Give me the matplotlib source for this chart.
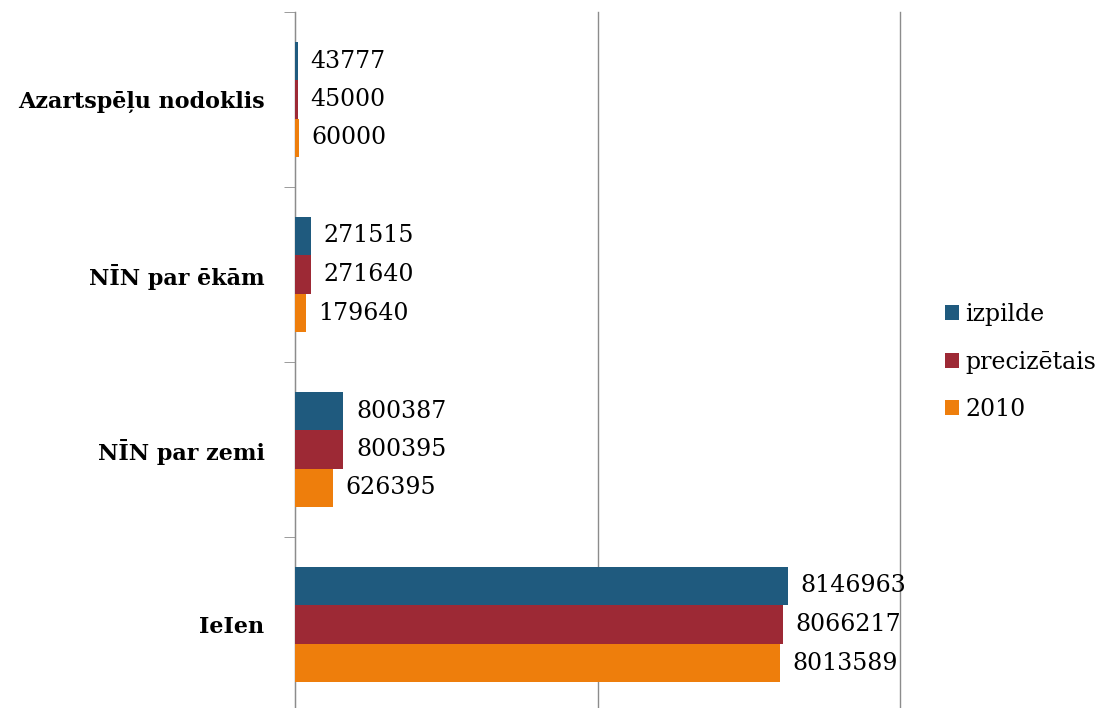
import numpy as np
from matplotlib import pyplot as plt
from matplotlib.ticker import FixedLocator

# dati (no apakšas uz augšu)
categories = ["IeIen", "NĪN par zemi", "NĪN par ēkām", "Azartspēļu nodoklis"]
izpilde = [8146963, 800387, 271515, 43777]
precizetais = [8066217, 800395, 271640, 45000]
gads_2010 = [8013589, 626395, 179640, 60000]
series_names = ["izpilde", "precizētais", "2010"]
colors = ["#1F5A7E", "#9D2935", "#EE7E0C"]

plt.rcParams['font.family'] = ['DejaVu Serif']

fig = plt.figure(figsize=(11.05, 7.08), dpi=100)
ax = fig.add_axes([295 / 1105, -4 / 708, 605 / 1105, 700 / 708])

y = np.arange(len(categories))
h = 0.22
for vals, name, col, off in zip([izpilde, precizetais, gads_2010], series_names, colors, [h, 0, -h]):
    bars = ax.barh(y + off, vals, height=h, color=col, label=name, zorder=3)
    for b, v in zip(bars, vals):
        ax.annotate(str(v), (b.get_width(), b.get_y() + b.get_height() / 2),
                    xytext=(9, 0), textcoords="offset points",
                    ha="left", va="center", fontsize=17, color="black", zorder=4)

ax.set_xlim(0, 10000000)
ax.set_ylim(-0.5, 3.5)
ax.set_xticks([0, 5000000, 10000000])
ax.xaxis.grid(True, color="#8c8c8c", linewidth=1, zorder=0)
for gl in ax.get_xgridlines():
    gl.set_clip_on(False)
ax.tick_params(axis="x", length=0, labelbottom=False)

ax.set_yticks(y)
ax.set_yticklabels(categories, fontsize=16, fontweight="bold")
ax.yaxis.set_minor_locator(FixedLocator(np.arange(-0.5, 4, 1)))
ax.tick_params(axis="y", which="major", length=0, pad=22)
ax.tick_params(axis="y", which="minor", length=8, color="#8c8c8c", direction="out")

for s in ["top", "right", "bottom"]:
    ax.spines[s].set_visible(False)
ax.spines["left"].set_color("#8c8c8c")

handles, labels = ax.get_legend_handles_labels()
fig.legend(handles, labels, loc="center left", bbox_to_anchor=(924 / 1105, (708 - 362) / 708),
           frameon=False, fontsize=17, handlelength=0.6, handleheight=0.6,
           handletextpad=0.25, labelspacing=1.05)

fig.savefig("out.png", dpi=100)
